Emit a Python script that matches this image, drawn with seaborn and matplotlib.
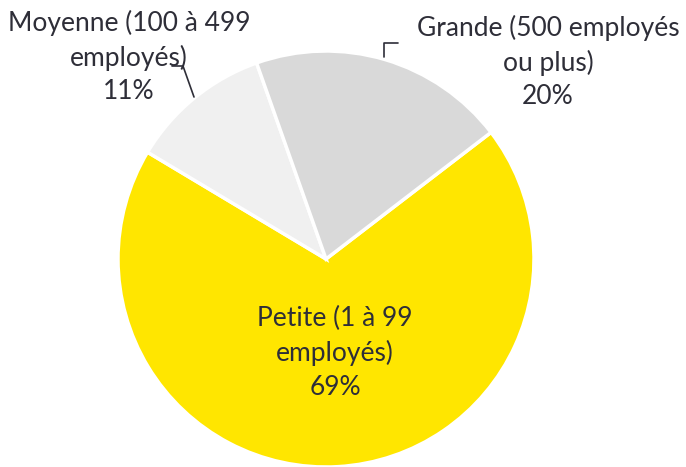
import matplotlib
matplotlib.use("Agg")
import matplotlib.pyplot as plt
import seaborn as sns

categories = ["Petite (1 à 99\nemployés)", "Moyenne (100 à 499\nemployés)", "Grande (500 employés\nou plus)"]
values = [69, 11, 20]
colors = ["#FFE600", "#F0F0F0", "#D9D9D9"]

sns.set_theme(style="white")
plt.rcParams['font.family'] = ['Lato', 'DejaVu Sans']

W, H = 686, 467
fig = plt.figure(figsize=(W / 100, H / 100), dpi=100)
ax = fig.add_axes([0, 0, 1, 1])

cx, cy, R = 326, 259, 208

def px(x, y):
    return ((x - cx) / R, (cy - y) / R)

ax.pie(values, colors=colors, startangle=90 - 52.5, counterclock=False,
       radius=1, center=(0, 0),
       wedgeprops=dict(edgecolor="white", linewidth=2.5))

ax.set_xlim(-cx / R, (W - cx) / R)
ax.set_ylim(-(H - cy) / R, cy / R)
ax.set_aspect('auto')
ax.axis('off')

txt = "#2E2E38"
label_pos = [(335, 353), (129, 57), (548, 62)]
for cat, v, (x, y) in zip(categories, values, label_pos):
    ax.text(*px(x, y), f"{cat}\n{v}%", ha="center", va="center",
            fontsize=19, color=txt, linespacing=1.42)

# leader lines
for pts in [[(172, 66), (183, 66), (194, 97)], [(384, 57), (384, 43), (398, 43)]]:
    xs, ys = zip(*[px(*p) for p in pts])
    ax.plot(xs, ys, color=txt, linewidth=1.2)

fig.savefig("out.png", dpi=100)
